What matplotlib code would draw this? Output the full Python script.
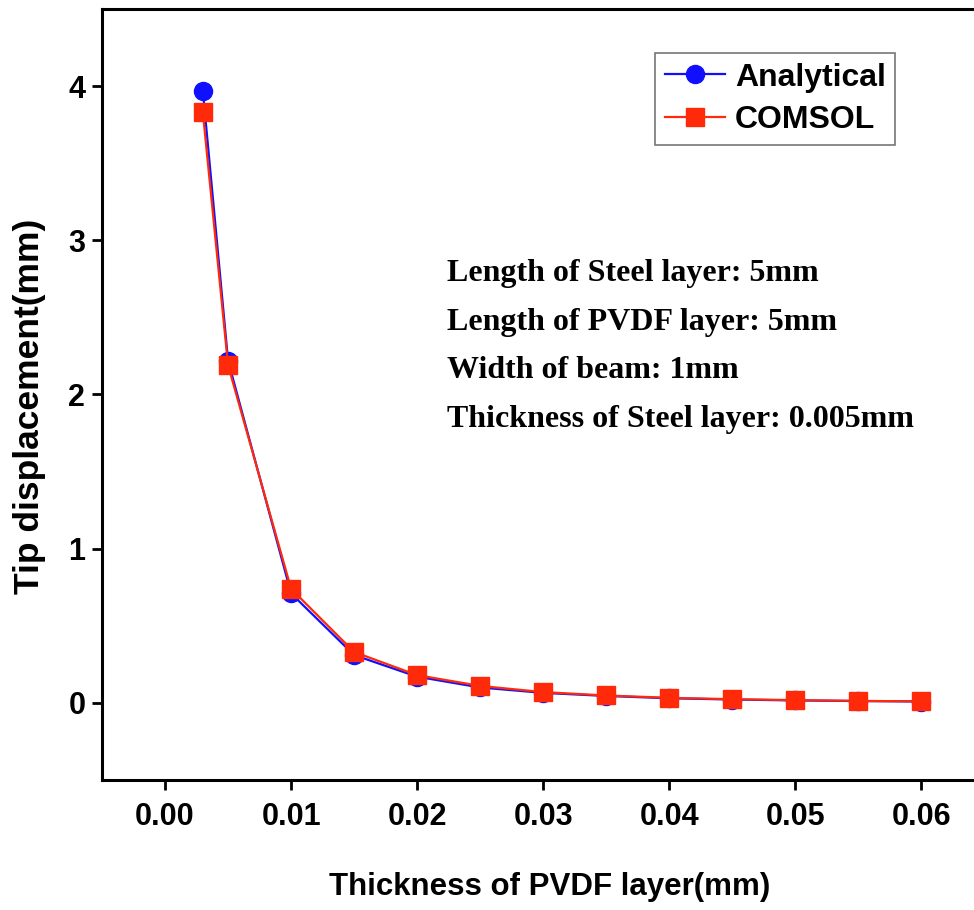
import numpy as np
import matplotlib
matplotlib.use("Agg")
import matplotlib.pyplot as plt

# Data
thickness = [0.003, 0.005, 0.010, 0.015, 0.020, 0.025, 0.030, 0.035, 0.040, 0.045, 0.050, 0.055, 0.060]
analytical = [3.97, 2.22, 0.71, 0.31, 0.17, 0.10, 0.065, 0.045, 0.03, 0.022, 0.016, 0.012, 0.009]
comsol = [3.83, 2.19, 0.74, 0.33, 0.18, 0.11, 0.07, 0.048, 0.033, 0.024, 0.018, 0.013, 0.010]

xticks = [0.00, 0.01, 0.02, 0.03, 0.04, 0.05, 0.06]
yticks = [0, 1, 2, 3, 4]

info_lines = [
    "Length of Steel layer: 5mm",
    "Length of PVDF layer: 5mm",
    "Width of beam: 1mm",
    "Thickness of Steel layer: 0.005mm",
]

plt.rcParams['font.family'] = ['Liberation Sans', 'DejaVu Sans']
plt.rcParams['font.weight'] = 'bold'

fig = plt.figure(figsize=(9.74, 9.10), dpi=100)
ax = fig.add_axes([102 / 974, 130 / 910, 895 / 974, 771 / 910])

ax.plot(thickness, analytical, color='#1010ff', lw=1.6, marker='o', ms=13,
        label='Analytical', zorder=3)
ax.plot(thickness, comsol, color='#ff2a0a', lw=1.6, marker='s', ms=13,
        label='COMSOL', zorder=4)

ax.set_xlim(-0.005, 0.066)
ax.set_ylim(-0.5, 4.5)
ax.set_xticks(xticks)
ax.set_xticklabels([f"{t:.2f}" for t in xticks])
ax.set_yticks(yticks)

for side in ['left', 'bottom', 'top']:
    ax.spines[side].set_linewidth(2.2)
ax.spines['right'].set_visible(False)

ax.tick_params(axis='both', direction='out', length=7, width=2, labelsize=22)
ax.tick_params(axis='x', pad=9)
ax.tick_params(axis='y', pad=5)

ax.set_xlabel("Thickness of PVDF layer(mm)", fontsize=22.5, fontweight='bold', labelpad=29)
ax.set_ylabel("Tip displacement(mm)", fontsize=25.5, fontweight='bold')
ax.yaxis.set_label_coords(46 / 974, 1 - 406 / 910, transform=fig.transFigure)

leg = ax.legend(loc='upper left', bbox_to_anchor=(655 / 974, 1 - 53 / 910),
                bbox_transform=fig.transFigure, fontsize=23, frameon=True,
                fancybox=False, handlelength=1.9, handletextpad=0.3,
                borderpad=0.3, labelspacing=0.4, borderaxespad=0)
leg.get_frame().set_edgecolor('#555555')
leg.get_frame().set_linewidth(1.2)

for i, line in enumerate(info_lines):
    fig.text(447 / 974, 1 - (274 + i * 48.5) / 910, line, family='Liberation Serif',
             fontsize=23, fontweight='bold', va='center', ha='left')

fig.savefig("out.png", dpi=100)
